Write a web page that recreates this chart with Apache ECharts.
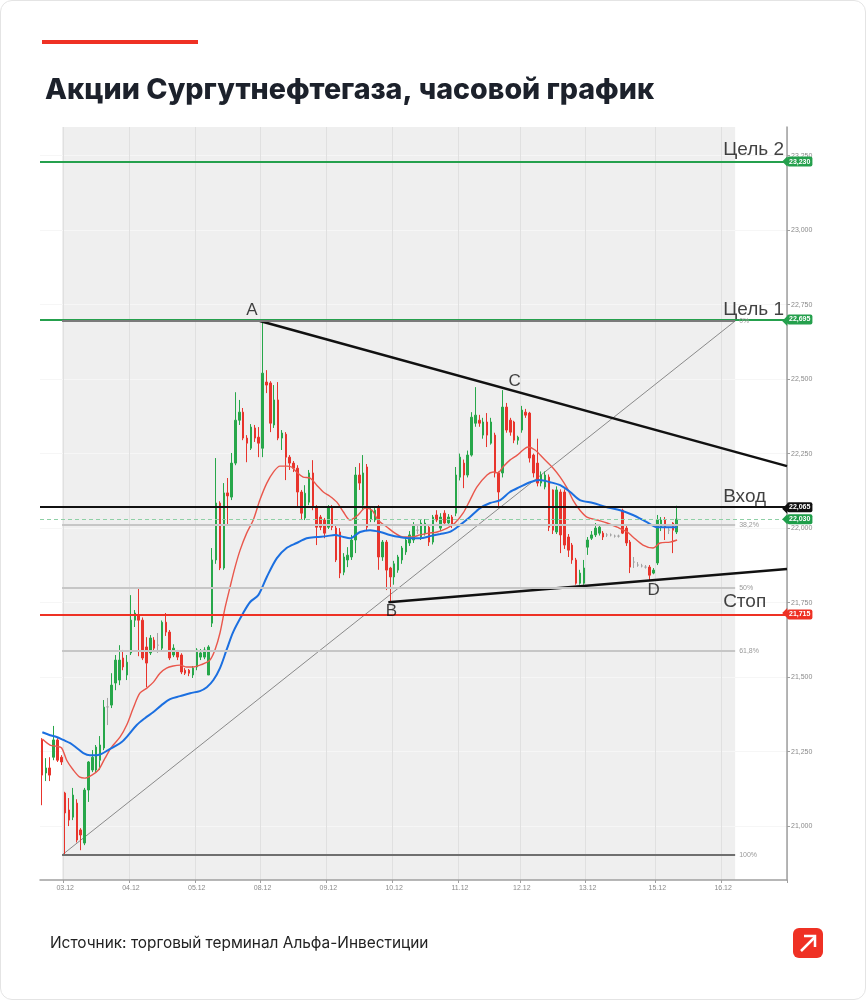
<!DOCTYPE html>
<html>
<head>
<meta charset="utf-8">
<title>Акции Сургутнефтегаза, часовой график</title>
<script src="https://cdn.jsdelivr.net/npm/echarts@6/dist/echarts.min.js"></script>
<style>
  html, body { margin: 0; padding: 0; background: #fff; }
  #wrap { position: relative; width: 866px; height: 1000px; }
  #chart { width: 866px; height: 1000px; }
  #frame { position: absolute; left: 0; top: 0; width: 866px; height: 1000px; box-sizing: border-box;
           border: 1px solid #e4e4e4; border-radius: 12px; pointer-events: none; }
</style>
</head>
<body>
<div id="wrap"><div id="chart"></div><div id="frame"></div></div>
<script>
// hourly slots on the time axis, day labels sit on the first candle of each day
var N_SLOTS = 193;
var dayLabels = ['03.12', '04.12', '05.12', '08.12', '09.12', '10.12', '11.12', '12.12', '13.12', '15.12', '16.12'];
var dayStarts = [6, 23, 40, 57, 74, 91, 108, 124, 141, 159, 176];

// [open, close, low, high], one per slot
var candles = [
  [21.289, 21.171, 21.070, 21.295], [21.178, 21.195, 21.151, 21.228], [21.195, 21.171, 21.151, 21.231],
  [21.231, 21.289, 21.221, 21.336], [21.289, 21.221, 21.215, 21.295], [21.231, 21.215, 21.205, 21.238],
  [21.111, 21.044, 20.903, 21.115], [21.054, 21.020, 21.000, 21.094], [21.030, 21.104, 21.020, 21.128],
  [21.077, 20.953, 20.945, 21.090], [20.987, 20.970, 20.919, 20.993], [20.943, 21.121, 20.936, 21.128],
  [21.121, 21.215, 21.081, 21.218], [21.188, 21.231, 21.181, 21.255], [21.188, 21.265, 21.180, 21.272],
  [21.221, 21.272, 21.188, 21.302], [21.262, 21.399, 21.255, 21.423], [21.400, 21.400, 21.339, 21.430],
  [21.406, 21.473, 21.396, 21.513], [21.480, 21.557, 21.456, 21.574], [21.490, 21.557, 21.473, 21.607],
  [21.564, 21.534, 21.523, 21.591], [21.507, 21.550, 21.490, 21.574], [21.581, 21.691, 21.574, 21.775],
  [21.691, 21.715, 21.668, 21.725], [21.708, 21.691, 21.570, 21.799], [21.691, 21.564, 21.557, 21.700],
  [21.601, 21.547, 21.466, 21.634], [21.581, 21.631, 21.574, 21.641], [21.624, 21.597, 21.584, 21.634],
  [21.607, 21.607, 21.581, 21.648], [21.597, 21.684, 21.590, 21.690], [21.684, 21.651, 21.638, 21.715],
  [21.651, 21.564, 21.557, 21.658], [21.574, 21.597, 21.567, 21.610], [21.584, 21.567, 21.557, 21.591],
  [21.574, 21.517, 21.510, 21.580], [21.523, 21.513, 21.507, 21.530], [21.523, 21.513, 21.503, 21.527],
  [21.507, 21.530, 21.497, 21.537], [21.534, 21.591, 21.523, 21.597], [21.567, 21.581, 21.557, 21.594],
  [21.567, 21.591, 21.560, 21.600], [21.507, 21.601, 21.507, 21.607], [21.681, 21.893, 21.668, 21.933],
  [21.893, 22.084, 21.880, 22.235], [22.084, 21.866, 21.859, 22.090], [21.866, 22.118, 21.860, 22.151],
  [22.118, 22.108, 22.010, 22.168], [22.104, 22.218, 22.094, 22.252], [22.218, 22.362, 22.211, 22.456],
  [22.362, 22.389, 22.346, 22.430], [22.389, 22.302, 22.295, 22.403], [22.302, 22.285, 22.221, 22.312],
  [22.268, 22.339, 22.262, 22.349], [22.336, 22.302, 22.289, 22.346], [22.305, 22.285, 22.238, 22.339],
  [22.268, 22.520, 22.238, 22.695], [22.490, 22.480, 22.453, 22.530], [22.487, 22.352, 22.322, 22.493],
  [22.346, 22.430, 22.336, 22.480], [22.430, 22.302, 22.295, 22.490], [22.302, 22.319, 22.262, 22.329],
  [22.315, 22.238, 22.161, 22.322], [22.238, 22.218, 22.195, 22.245], [22.218, 22.201, 22.188, 22.225],
  [22.201, 22.121, 22.070, 22.211], [22.121, 22.050, 22.027, 22.128], [22.034, 22.117, 22.027, 22.144],
  [22.087, 22.185, 22.077, 22.195], [22.185, 22.070, 22.060, 22.228], [22.070, 22.003, 21.943, 22.077],
  [22.037, 22.003, 21.993, 22.044], [22.027, 21.983, 21.966, 22.034], [22.003, 22.070, 21.997, 22.077],
  [22.070, 22.003, 21.993, 22.077], [22.000, 21.893, 21.886, 22.010], [21.987, 21.849, 21.832, 22.000],
  [21.852, 21.903, 21.842, 21.916], [21.893, 21.909, 21.869, 21.936], [21.903, 21.960, 21.893, 21.977],
  [21.960, 22.178, 21.916, 22.205], [22.178, 22.151, 22.128, 22.218], [22.077, 22.185, 22.060, 22.245],
  [22.205, 22.003, 21.990, 22.215], [22.030, 22.060, 22.020, 22.070], [22.027, 22.060, 22.020, 22.070],
  [22.067, 21.903, 21.860, 22.077], [21.903, 21.953, 21.890, 21.960], [21.953, 21.859, 21.792, 21.960],
  [21.866, 21.836, 21.751, 21.870], [21.836, 21.880, 21.810, 21.890], [21.859, 21.903, 21.850, 21.910],
  [21.893, 21.933, 21.880, 21.940], [21.920, 21.960, 21.910, 21.970], [21.950, 21.977, 21.940, 21.990],
  [21.960, 22.010, 21.950, 22.020], [21.993, 21.993, 21.980, 22.010], [21.970, 22.017, 21.960, 22.027],
  [21.983, 22.017, 21.975, 22.030], [22.003, 21.953, 21.940, 22.010], [21.953, 22.037, 21.945, 22.044],
  [22.044, 22.027, 22.020, 22.060], [22.000, 22.037, 21.990, 22.050], [22.050, 22.017, 22.010, 22.060],
  [22.017, 22.037, 22.010, 22.047], [22.037, 22.010, 22.000, 22.044], [22.050, 22.178, 22.040, 22.205],
  [22.171, 22.238, 22.160, 22.250], [22.218, 22.178, 22.134, 22.230], [22.178, 22.245, 22.170, 22.260],
  [22.245, 22.372, 22.240, 22.389], [22.352, 22.379, 22.340, 22.473], [22.362, 22.352, 22.340, 22.380],
  [22.312, 22.356, 22.300, 22.370], [22.356, 22.312, 22.272, 22.386], [22.285, 22.356, 22.280, 22.370],
  [22.312, 22.185, 22.170, 22.320], [22.185, 22.121, 22.070, 22.190], [22.185, 22.406, 22.170, 22.463],
  [22.406, 22.329, 22.320, 22.420], [22.362, 22.322, 22.310, 22.370], [22.356, 22.295, 22.285, 22.360],
  [22.295, 22.305, 22.280, 22.310], [22.329, 22.396, 22.320, 22.410], [22.389, 22.379, 22.370, 22.400],
  [22.386, 22.235, 22.220, 22.390], [22.245, 22.185, 22.170, 22.250], [22.218, 22.151, 22.140, 22.300],
  [22.151, 22.178, 22.140, 22.190], [22.138, 22.178, 22.130, 22.190], [22.171, 22.003, 21.990, 22.180],
  [22.128, 21.993, 21.980, 22.130], [21.987, 22.128, 21.980, 22.140], [22.121, 21.977, 21.916, 22.130],
  [22.121, 21.943, 21.930, 22.130], [21.970, 21.926, 21.903, 21.980], [21.943, 21.893, 21.880, 21.950],
  [21.893, 21.815, 21.810, 21.900], [21.815, 21.849, 21.810, 21.860], [21.815, 21.866, 21.810, 21.893],
  [21.936, 21.960, 21.910, 21.970], [21.966, 21.977, 21.960, 21.990], [21.977, 22.000, 21.970, 22.017],
  [21.983, 22.003, 21.975, 22.010], [21.983, 21.970, 21.960, 21.990], [21.977, 21.977, 21.970, 21.983],
  [21.977, 21.977, 21.972, 21.982], [21.973, 21.973, 21.968, 21.978], [21.973, 21.973, 21.968, 21.978],
  [22.060, 21.983, 21.980, 22.065], [22.000, 21.950, 21.940, 22.010], [21.953, 21.869, 21.849, 21.960],
  [21.886, 21.886, 21.866, 21.903], [21.876, 21.876, 21.870, 21.886], [21.873, 21.873, 21.868, 21.880],
  [21.869, 21.869, 21.864, 21.876], [21.869, 21.842, 21.825, 21.876], [21.849, 21.859, 21.845, 21.866],
  [21.883, 22.027, 21.876, 22.044], [22.003, 22.027, 21.990, 22.037], [22.027, 22.003, 21.960, 22.037],
  [21.993, 21.993, 21.980, 22.000], [22.017, 21.993, 21.916, 22.020], [21.987, 22.030, 21.980, 22.075]
];

// moving averages: [slot, price]
var maFast = [
  [0.6, 21.292], [2.6, 21.272], [4.3, 21.268], [5.6, 21.262], [6.9, 21.221], [8.6, 21.188], [10.3, 21.164],
  [11.6, 21.161], [13.4, 21.171], [15.1, 21.188], [16.8, 21.228], [18.5, 21.265], [20.7, 21.299], [22.4, 21.339],
  [24.1, 21.396], [25.8, 21.446], [27.6, 21.463], [29.3, 21.483], [31.0, 21.513], [32.7, 21.530], [34.4, 21.537],
  [36.2, 21.540], [37.9, 21.534], [39.6, 21.534], [41.3, 21.540], [42.6, 21.547], [43.9, 21.557], [45.2, 21.591],
  [46.5, 21.648], [47.8, 21.732], [49.1, 21.802], [50.4, 21.869], [51.7, 21.926], [53.4, 21.983], [55.1, 22.027],
  [56.8, 22.094], [58.6, 22.151], [60.3, 22.188], [62.0, 22.208], [63.7, 22.208], [65.0, 22.205], [66.3, 22.188],
  [68.0, 22.171], [69.8, 22.168], [71.5, 22.144], [73.2, 22.121], [74.9, 22.107], [76.7, 22.087], [78.4, 22.054],
  [80.1, 22.027], [82.2, 22.044], [84.0, 22.067], [85.8, 22.060], [87.3, 22.027], [89.7, 22.003], [91.7, 21.983],
  [93.8, 21.970], [96.1, 21.970], [98.2, 21.977], [100.3, 21.983], [102.6, 21.987], [105.2, 22.000], [107.2, 22.017],
  [109.3, 22.050], [111.1, 22.094], [112.9, 22.138], [115.5, 22.178], [117.1, 22.188], [118.3, 22.185], [119.6, 22.205],
  [121.4, 22.228], [123.3, 22.245], [124.8, 22.262], [126.1, 22.272], [127.9, 22.262], [130.0, 22.235], [132.6, 22.201],
  [134.4, 22.171], [136.2, 22.134], [137.7, 22.094], [139.5, 22.060], [141.3, 22.037], [143.9, 22.027], [146.5, 22.017],
  [149.1, 22.003], [151.7, 21.987], [153.2, 21.970], [155.8, 21.943], [158.4, 21.933], [160.2, 21.950], [162.8, 21.953],
  [164.6, 21.960]
];
var maSlow = [
  [0.6, 21.315], [2.6, 21.305], [4.3, 21.299], [6.0, 21.289], [7.8, 21.278], [9.5, 21.262], [11.2, 21.245],
  [12.9, 21.238], [14.7, 21.238], [15.9, 21.242], [17.6, 21.255], [19.4, 21.268], [21.1, 21.282], [22.8, 21.305],
  [25.0, 21.339], [27.1, 21.362], [29.3, 21.383], [31.4, 21.406], [33.6, 21.426], [36.2, 21.436], [38.8, 21.446],
  [41.3, 21.453], [43.1, 21.466], [44.8, 21.490], [46.5, 21.530], [48.2, 21.591], [49.9, 21.651], [52.5, 21.715],
  [54.3, 21.752], [56.4, 21.775], [58.6, 21.836], [61.2, 21.899], [63.7, 21.933], [66.3, 21.950], [68.9, 21.966],
  [71.5, 21.970], [74.1, 21.973], [76.2, 21.977], [78.4, 21.970], [80.1, 21.966], [82.7, 21.987], [85.3, 21.993],
  [87.9, 21.987], [90.4, 21.977], [93.0, 21.970], [95.6, 21.966], [98.2, 21.966], [100.8, 21.973], [103.4, 21.980],
  [105.9, 21.987], [108.5, 22.010], [111.1, 22.037], [113.7, 22.067], [116.3, 22.084], [118.9, 22.094], [121.4, 22.121],
  [124.0, 22.138], [126.6, 22.154], [129.2, 22.161], [131.8, 22.154], [134.4, 22.144], [137.0, 22.121], [139.5, 22.094],
  [142.9, 22.084], [146.5, 22.070], [149.9, 22.060], [153.2, 22.044], [156.8, 22.020], [159.4, 22.003], [162.0, 22.003],
  [164.6, 22.003]
];

var yTicks = [21, 21.25, 21.5, 21.75, 22, 22.25, 22.5, 22.75, 23, 23.25];
var lastPrice = 22.030;

var levelNames = ['Цель 2', 'Цель 1', 'Вход', 'Стоп'];
var levelPrices = [23.230, 22.695, 22.065, 21.715];

// fibonacci grid from the low (start) to the high (end): [slot, price]
var fibFrom = [5.7, 20.903];
var fibTo = [179.6, 22.695];
var fibLevels = [0, 0.382, 0.5, 0.618, 1];
var fibLabels = ['0%', '38,2%', '50%', '61,8%', '100%'];

// pattern points and trend lines: [slot, price]
var pointNames = ['A', 'B', 'C', 'D'];
var pointSlots = [56.8, 90.0, 119.5, 157.5];
var pointPrices = [22.695, 21.751, 22.463, 21.825];
var trendUpper = [[56.8, 22.695], [193, 22.208]];
var trendLower = [[90.0, 21.751], [193, 21.863]];

// ---- layout / styles
var Y_MIN = 20.819, Y_MAX = 23.346;
var NAME_SLOT = 176.5, ARROW_SLOT = 192.4;
var UP = '#27a74a', DOWN = '#e8342c';
var levelColors = ['#25a04d', '#25a04d', '#111111', '#ee3124'];
var fibColors = ['#7a7a7a', '#c6c6c6', '#c6c6c6', '#c6c6c6', '#6f6f6f'];
var pointOffsets = [[-8, -11], [3, 9], [12, -9], [4, 10]];
var AXIS_FONT = 'Liberation Sans, Arial, sans-serif';

var labelAt = {};
dayStarts.forEach(function (s, i) { labelAt[s] = dayLabels[i]; });
var slots = [];
for (var i = 0; i < N_SLOTS; i++) slots.push(String(i));
function isDayStart(i) { return labelAt[i] !== undefined; }
function fmtPrice(v) { return v.toFixed(3).replace('.', ','); }

function tagLabel(text, color) {
  return {
    show: true, position: 'end', distance: 0, formatter: text,
    color: '#fff', backgroundColor: color, padding: [2, 2, 1, 2], borderRadius: 2,
    fontSize: 7, fontWeight: 'bold', fontFamily: AXIS_FONT
  };
}

var levelLines = levelPrices.map(function (p, i) {
  return { yAxis: p, lineStyle: { color: levelColors[i], width: 2, type: 'solid' }, label: tagLabel(fmtPrice(p), levelColors[i]) };
});
levelLines.unshift({ yAxis: lastPrice, lineStyle: { color: '#8fd0a6', width: 1, type: [4, 3] }, label: tagLabel(fmtPrice(lastPrice), '#1f9e4a') });

var arrowPoints = levelPrices.map(function (p, i) {
  return { coord: [ARROW_SLOT, p], itemStyle: { color: levelColors[i] } };
});
arrowPoints.push({ coord: [ARROW_SLOT, lastPrice], itemStyle: { color: '#1f9e4a' } });

var fibLines = fibLevels.map(function (lv, i) {
  var p = fibTo[1] - lv * (fibTo[1] - fibFrom[1]);
  return [
    { coord: [fibFrom[0], p], lineStyle: { color: fibColors[i], width: 2, type: 'solid' },
      label: { show: true, position: 'end', distance: 4, formatter: fibLabels[i], color: '#999', fontSize: 7, fontFamily: AXIS_FONT } },
    { coord: [fibTo[0], p] }
  ];
});

var chart = echarts.init(document.getElementById('chart'));

var option = {
  animation: false,
  backgroundColor: '#fff',
  title: {
    text: 'Акции Сургутнефтегаза, часовой график',
    left: 40, top: 71,
    textStyle: { fontFamily: 'Inter', fontWeight: 800, fontSize: 28.6, color: '#1c212b' }
  },
  graphic: [
    { type: 'rect', x: 42, y: 40, shape: { width: 156, height: 4 }, style: { fill: '#ef3124' } },
    { type: 'text', x: 50, y: 943, style: { text: 'Источник: торговый терминал Альфа-Инвестиции', fill: '#222',
        font: '15.4px Inter, Roboto, sans-serif', verticalAlign: 'middle' } },
    { type: 'group', x: 793, y: 928, children: [
      { type: 'rect', shape: { x: 0, y: 0, width: 30, height: 30, r: 6 }, style: { fill: '#ef3124' } },
      { type: 'polyline', shape: { points: [[8, 23], [22, 9]] }, style: { stroke: '#fff', lineWidth: 2.5 } },
      { type: 'polyline', shape: { points: [[11, 8], [22, 8], [22, 19]] }, style: { stroke: '#fff', lineWidth: 2.5, fill: null } }
    ] }
  ],
  grid: { left: 40, right: 79, top: 127, bottom: 120 },
  xAxis: [{
    type: 'category', data: slots, boundaryGap: true,
    axisLine: { onZero: false, lineStyle: { color: '#a0a0a0', width: 1.5 } },
    axisTick: { show: true, interval: isDayStart, length: 3, lineStyle: { color: '#a0a0a0' } },
    axisLabel: { interval: isDayStart, formatter: function (v, idx) { return labelAt[idx] || ''; },
      fontSize: 7, color: '#8a8a8a', margin: 5, fontFamily: AXIS_FONT },
    splitLine: { show: true, interval: isDayStart, lineStyle: { color: '#e0e0e0', width: 1 } }
  }, {
    type: 'value', min: 0, max: N_SLOTS, show: false
  }],
  yAxis: {
    type: 'value', position: 'right', min: Y_MIN, max: Y_MAX,
    axisLine: { show: true, onZero: false, lineStyle: { color: '#a0a0a0', width: 1.5 } },
    axisTick: { show: true, length: 3, customValues: yTicks, lineStyle: { color: '#a0a0a0' } },
    axisLabel: { customValues: yTicks, formatter: function (v) { return fmtPrice(v); },
      fontSize: 7, color: '#8a8a8a', margin: 4, fontFamily: AXIS_FONT },
    splitLine: { show: true, lineStyle: { color: '#f6f6f6', width: 1 } }
  },
  series: [
    {
      name: 'Свечи', type: 'candlestick', xAxisIndex: 0, data: candles, barWidth: 2, z: 2,
      itemStyle: { color: UP, color0: DOWN, borderColor: UP, borderColor0: DOWN, borderColorDoji: '#a3a3a3', borderWidth: 1 }
    },
    {
      name: 'Fibo', type: 'line', xAxisIndex: 1, data: [fibFrom, fibTo], symbol: 'none', silent: true, z: 2,
      lineStyle: { color: '#8a8a8a', width: 1 },
      markArea: { silent: true, z: -1, itemStyle: { color: '#efefef' }, data: [[{ xAxis: fibFrom[0] }, { xAxis: fibTo[0] }]] }
    },
    {
      name: 'MA fast', type: 'line', xAxisIndex: 1, data: maFast, showSymbol: false, smooth: 0.3, silent: true, z: 3,
      lineStyle: { color: '#e9574c', width: 1.4 }
    },
    {
      name: 'MA slow', type: 'line', xAxisIndex: 1, data: maSlow, showSymbol: false, smooth: 0.3, silent: true, z: 3,
      lineStyle: { color: '#1b6fe0', width: 2 }
    },
    {
      name: 'Уровни', type: 'scatter', xAxisIndex: 1, symbolSize: 0, silent: true, z: 6,
      data: levelPrices.map(function (p, i) { return [NAME_SLOT, p, levelNames[i]]; }),
      label: { show: true, position: 'top', align: 'left', distance: 2, formatter: function (d) { return d.data[2]; },
        fontSize: 19, color: '#111', fontFamily: AXIS_FONT },
      markLine: { silent: true, symbol: 'none', data: levelLines },
      markPoint: { silent: true, symbol: 'path://M0,5L5,0L5,10Z', symbolSize: [5, 10], label: { show: false }, data: arrowPoints }
    },
    {
      name: 'Fibo levels', type: 'line', xAxisIndex: 1, data: [], silent: true,
      markLine: { silent: true, symbol: 'none', data: fibLines }
    },
    {
      name: 'Trend upper', type: 'line', xAxisIndex: 1, data: trendUpper, symbol: 'none', silent: true, z: 4,
      lineStyle: { color: '#111', width: 2.5 }
    },
    {
      name: 'Trend lower', type: 'line', xAxisIndex: 1, data: trendLower, symbol: 'none', silent: true, z: 4,
      lineStyle: { color: '#111', width: 2.5 }
    },
    {
      name: 'Точки', type: 'scatter', xAxisIndex: 1, symbolSize: 0, silent: true, z: 7,
      data: pointNames.map(function (n, i) {
        return { value: [pointSlots[i], pointPrices[i]], name: n, label: { offset: pointOffsets[i] } };
      }),
      label: { show: true, position: 'inside', formatter: '{b}', fontSize: 17, color: '#111', fontFamily: AXIS_FONT }
    }
  ]
};

chart.setOption(option);
</script>
</body>
</html>
